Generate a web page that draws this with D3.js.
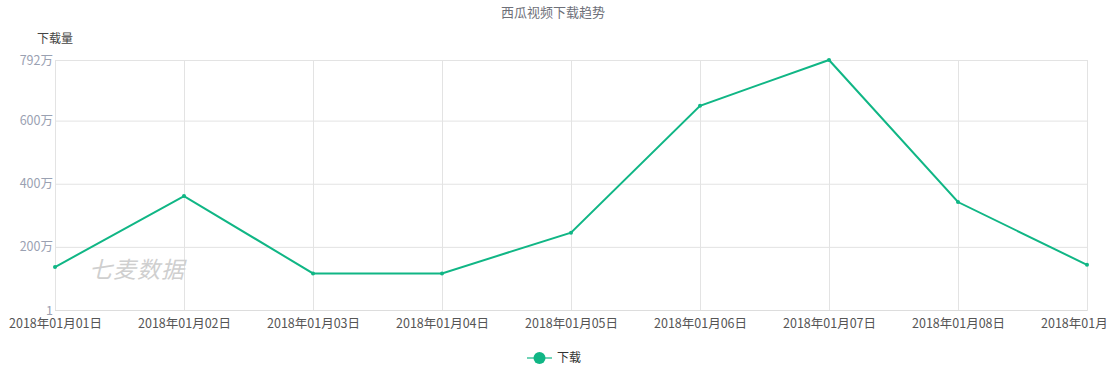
<!DOCTYPE html>
<html><head><meta charset="utf-8">
<script src="https://cdn.jsdelivr.net/npm/d3@7/dist/d3.min.js"></script>
<style>
body{margin:0;background:#fff;}
text{font-family:"Noto Sans CJK SC","Noto Sans",sans-serif;}
</style></head>
<body><svg id="c" width="1107" height="370"></svg>
<script>
const categories = ["2018年01月01日","2018年01月02日","2018年01月03日","2018年01月04日","2018年01月05日","2018年01月06日","2018年01月07日","2018年01月08日","2018年01月09日"];
const downloads = [1360000, 3610000, 1160000, 1160000, 2450000, 6470000, 7920000, 3420000, 1430000];
const yTicks = [1, 2000000, 4000000, 6000000, 7920000];
const yTickLabels = ["1", "200万", "400万", "600万", "792万"];
const title = "西瓜视频下载趋势";
const yName = "下载量";
const seriesName = "下载";

const color = "#10b685";
const svg = d3.select("#c");
const L = 55, R = 1087, T = 60, B = 310;
const x = d3.scalePoint().domain(categories).range([L, R]);
const y = d3.scaleLinear().domain([1, 7920000]).range([B, T]);

// title
svg.append("text").attr("x", 553).attr("y", 17).attr("text-anchor", "middle")
  .attr("font-size", 13).attr("fill", "#6e7079").text(title);
svg.append("text").attr("x", 55).attr("y", 43).attr("text-anchor", "middle")
  .attr("font-size", 12).attr("fill", "#444").text(yName);

// horizontal grid
const yAxis = d3.axisLeft(y).tickValues(yTicks).tickSize(-(R - L)).tickPadding(6)
  .tickFormat((d, i) => yTickLabels[i]);
const gy = svg.append("g").attr("transform", `translate(${L},0)`).call(yAxis);
gy.select(".domain").remove();
gy.selectAll(".tick line").attr("stroke", "#e3e3e3");
gy.selectAll(".tick text").attr("font-size", 12.5).attr("fill", "#9aa1b2").attr("x", -2).attr("font-family", "\"Noto Sans CJK SC\",sans-serif");
gy.select(".tick line").attr("stroke", "#ddd");

// vertical grid + x axis
const xAxis = d3.axisBottom(x).tickSize(-(B - T)).tickPadding(10);
const gx = svg.append("g").attr("transform", `translate(0,${B})`).call(xAxis);
gx.select(".domain").attr("stroke", "#ddd");
gx.selectAll(".tick line").attr("stroke", "#e3e3e3");
gx.selectAll(".tick text").attr("font-size", 12.5).attr("fill", "#555").attr("font-family", "\"Noto Sans CJK SC\",sans-serif").attr("dy", "0.6em");

// watermark
svg.append("text").attr("x", 89).attr("y", 278).attr("font-size", 23).attr("font-style", "italic")
  .attr("fill", "#cfcfcf").attr("letter-spacing", 1).text("七麦数据");

// line
const line = d3.line().x((d, i) => x(categories[i])).y(d => y(d));
svg.append("path").datum(downloads).attr("d", line).attr("fill", "none")
  .attr("stroke", color).attr("stroke-width", 2);
svg.selectAll("circle.pt").data(downloads).enter().append("circle").attr("class", "pt")
  .attr("cx", (d, i) => x(categories[i])).attr("cy", d => y(d)).attr("r", 2).attr("fill", color);

// legend
const lg = svg.append("g");
lg.append("line").attr("x1", 527).attr("x2", 552).attr("y1", 358).attr("y2", 358)
  .attr("stroke", color).attr("stroke-opacity", 0.6).attr("stroke-width", 2);
lg.append("circle").attr("cx", 539.5).attr("cy", 358).attr("r", 6).attr("fill", color);
lg.append("text").attr("x", 557).attr("y", 362).attr("font-size", 12).attr("fill", "#333").text(seriesName);
</script></body></html>
